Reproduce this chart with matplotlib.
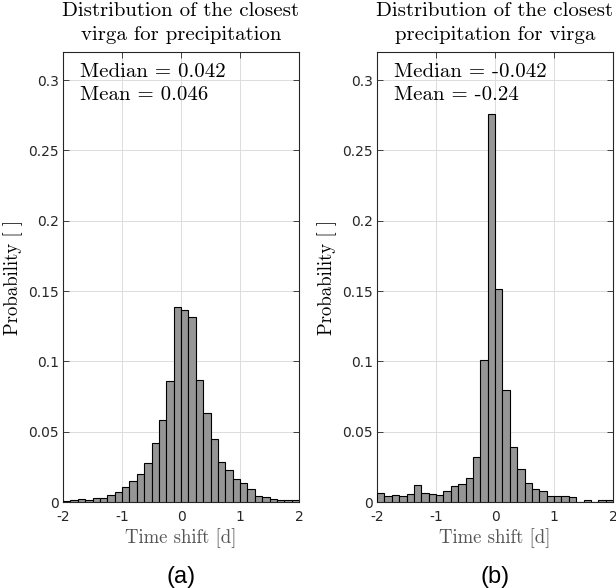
import matplotlib
matplotlib.use('Agg')
import matplotlib.pyplot as plt
import numpy as np

plt.rcParams['axes.unicode_minus'] = False

# bin edges: 32 bins of 0.125 d from -2 to 2
bin_edges = np.linspace(-2, 2, 33)

# probability per bin
prob_a = [0.0007, 0.0014, 0.002, 0.0014, 0.003, 0.003, 0.005, 0.007,
          0.011, 0.015, 0.020, 0.028, 0.042, 0.0586, 0.0864, 0.1386,
          0.1364, 0.1314, 0.0871, 0.0636, 0.045, 0.0286, 0.0229, 0.0164,
          0.0136, 0.0093, 0.0043, 0.0036, 0.002, 0.0014, 0.0014, 0.0014]
prob_b = [0.0064, 0.0045, 0.0052, 0.0045, 0.0059, 0.0123, 0.0064, 0.0059,
          0.0052, 0.008, 0.0114, 0.0128, 0.0173, 0.0322, 0.101, 0.2758,
          0.1515, 0.0798, 0.0393, 0.0232, 0.0137, 0.009, 0.008, 0.0045,
          0.004, 0.004, 0.0033, 0.0, 0.0014, 0.0, 0.0014, 0.0014]

titles = ['Distribution of the closest\nvirga for precipitation',
          'Distribution of the closest\nprecipitation for virga']
stats = ['Median = 0.042\nMean = 0.046',
         'Median = -0.042\nMean = -0.24']
panel_labels = ['(a)', '(b)']

serif = 'cmr10'

fig = plt.figure(figsize=(6.16, 5.88), dpi=100)
lefts = [63 / 616, 377 / 616]
w = 236 / 616
bottom = 1 - 502 / 588
h = 450 / 588

for i, probs in enumerate([prob_a, prob_b]):
    ax = fig.add_axes([lefts[i], bottom, w, h])
    ax.bar(bin_edges[:-1], probs, width=np.diff(bin_edges), align='edge',
           color='#969696', edgecolor='black', linewidth=0.8, zorder=3)
    ax.set_xlim(-2, 2)
    ax.set_ylim(0, 0.32)
    ax.set_xticks([-2, -1, 0, 1, 2])
    ax.set_xticklabels(['-2', '-1', '0', '1', '2'])
    ax.set_yticks([0, 0.05, 0.1, 0.15, 0.2, 0.25, 0.3])
    ax.set_yticklabels(['0', '0.05', '0.1', '0.15', '0.2', '0.25', '0.3'])
    ax.tick_params(direction='in', top=True, right=True, labelsize=10,
                   length=4, width=0.6, colors='#262626')
    ax.tick_params(axis='x', pad=6)
    ax.tick_params(axis='y', pad=3)
    ax.grid(True, color='#dcdcdc', linewidth=0.7, zorder=0)
    for s in ax.spines.values():
        s.set_linewidth(0.8)
        s.set_color('#262626')
    ax.set_title(titles[i], fontfamily=serif, fontsize=15, pad=9,
                 linespacing=1.38)
    ax.set_xlabel('Time shift [d]', fontfamily=serif, fontsize=13.5,
                  color='#555555', labelpad=3)
    ax.set_ylabel('Probability [ ]', fontfamily=serif, fontsize=13.5,
                  labelpad=4)
    ax.text(0.07, 0.975, stats[i], transform=ax.transAxes, va='top',
            ha='left', fontfamily=serif, fontsize=15, linespacing=1.37,
            zorder=5)
    fig.text(lefts[i] + w / 2, 1 - 577 / 588, panel_labels[i],
             ha='center', va='center', fontfamily='Liberation Sans',
             fontsize=17)

fig.savefig('out.png', dpi=100)
